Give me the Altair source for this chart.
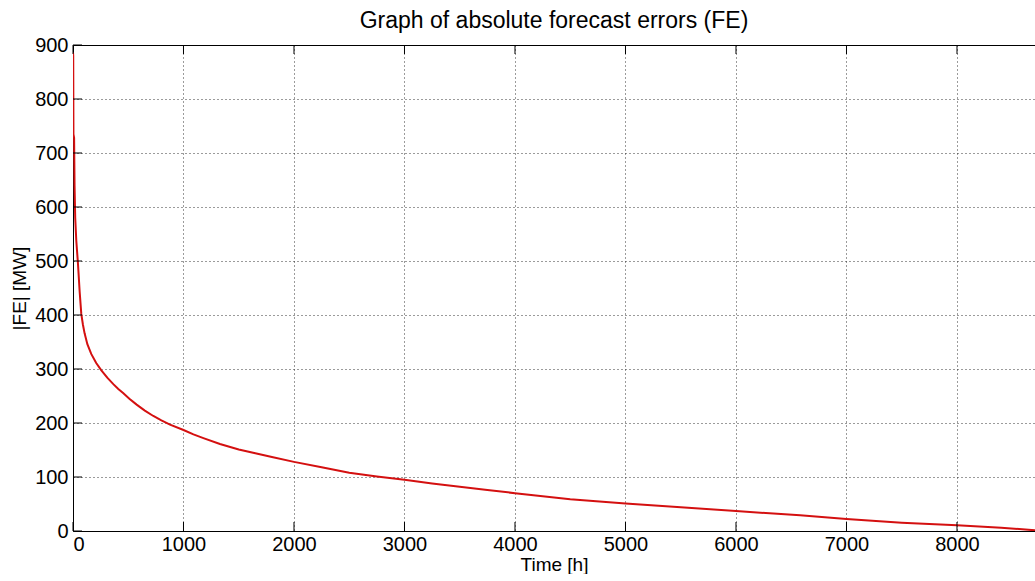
import altair as alt
import pandas as pd

# Duration curve of absolute forecast errors over one year (hours sorted by |FE|)
hours = [0, 2, 4, 10, 14, 20, 30, 45, 60, 75, 90, 105, 130, 165, 210, 255, 310,
         365, 410, 456, 510, 576, 650, 727, 800, 878, 1000, 1090, 1180, 1330,
         1500, 1650, 1800, 2000, 2250, 2500, 2750, 3000, 3250, 3500, 3750, 4000,
         4500, 5000, 5500, 6000, 6580, 7000, 7500, 8000, 8400, 8760]
fe_mw = [886, 880, 735, 728, 640, 580, 537, 495, 444, 402, 382, 366, 346, 328,
         311, 298, 284, 272, 263, 255, 245, 234, 223, 213, 205, 197, 187, 179,
         172, 161, 151, 144, 137, 128, 118, 108, 101, 95, 88, 82, 76, 70,
         59, 51, 44, 37, 29, 22, 15.5, 10.5, 6, 0.5]

x_ticks = [0, 1000, 2000, 3000, 4000, 5000, 6000, 7000, 8000]
y_ticks = [0, 100, 200, 300, 400, 500, 600, 700, 800, 900]

FONT = "Liberation Sans"
W, H = 962, 486
TICK = 9
X_DOMAIN = [0, 8706]
Y_DOMAIN = [0, 900]

curve = pd.DataFrame({"hour": hours, "fe": fe_mw})
xt = pd.DataFrame({"hour": x_ticks})
yt = pd.DataFrame({"fe": y_ticks})

xscale = alt.Scale(domain=X_DOMAIN, nice=False, zero=False)
yscale = alt.Scale(domain=Y_DOMAIN, nice=False)

line = alt.Chart(curve).mark_line(color="#d41010", strokeWidth=2, clip=True).encode(
    x=alt.X("hour:Q", scale=xscale,
            axis=alt.Axis(values=x_ticks, title="Time [h]", grid=True,
                          labelPadding=3, titlePadding=1, format="d")),
    y=alt.Y("fe:Q", scale=yscale,
            axis=alt.Axis(values=y_ticks, title="|FE| [MW]", grid=True,
                          labelPadding=5, titlePadding=5, format="d")),
)

# inward tick marks in the MATLAB style
bottom_ticks = alt.Chart(xt).mark_rule(color="black", strokeWidth=1).encode(
    x=alt.X("hour:Q", scale=xscale, axis=None),
    y=alt.value(H), y2=alt.value(H - TICK),
)
top_ticks = alt.Chart(xt).mark_rule(color="black", strokeWidth=1).encode(
    x=alt.X("hour:Q", scale=xscale,
            axis=alt.Axis(orient="top", labels=False, ticks=False, grid=False,
                          domain=True, title=None)),
    y=alt.value(0), y2=alt.value(TICK),
)
left_ticks = alt.Chart(yt).mark_rule(color="black", strokeWidth=1).encode(
    y=alt.Y("fe:Q", scale=yscale),
    x=alt.value(0), x2=alt.value(TICK),
)

chart = (
    alt.layer(line, left_ticks, bottom_ticks, top_ticks)
    .resolve_axis(x="independent")
    .properties(
        width=W, height=H,
        title=alt.TitleParams("Graph of absolute forecast errors (FE)",
                              font=FONT, fontSize=23, fontWeight="normal",
                              color="black", anchor="middle", offset=2),
        padding={"left": 10, "top": 10, "right": 0, "bottom": 0},
        background="white",
    )
    .configure_view(stroke=None)
    .configure_axis(
        labelFont=FONT, titleFont=FONT, labelFontSize=20, titleFontSize=19,
        labelColor="black", titleColor="black", titleFontWeight="normal",
        domainColor="black", domainWidth=1, ticks=False,
        gridColor="#222222", gridDash=[1, 3], gridWidth=1, gridOpacity=0.9,
    )
)

chart.save("out.html", embed_options={"renderer": "svg", "actions": False})
